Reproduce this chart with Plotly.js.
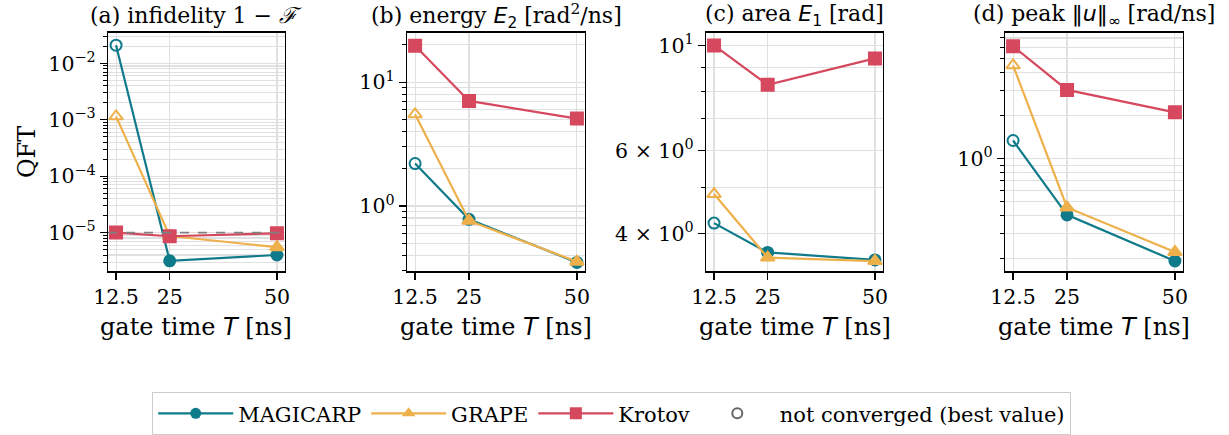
<!DOCTYPE html>
<html>
<head>
<meta charset="utf-8">
<script src="https://cdn.plot.ly/plotly-3.0.1.min.js"></script>
<style>html,body{margin:0;padding:0;background:#fff;}</style>
</head>
<body>
<div id="chart" style="width:1229px;height:435px;"></div>
<script>
// ---- data ----
const gateTimes = [12.5, 25, 50];
const gateTickText = ['12.5', '25', '50'];

const methods = ['MAGICARP', 'GRAPE', 'Krotov'];
const notConvergedLabel = 'not converged (best value)';

// converged flags per method (false -> open marker)
const convMagicarp = [false, true, true];
const convGrape = [false, true, true];
const convKrotov = [true, true, true];

// (a) infidelity
const infidMagicarp = [0.021, 3.15e-6, 4.0e-6];
const infidGrape = [1.15e-3, 8.7e-6, 5.5e-6];
const infidKrotov = [1.0e-5, 8.6e-6, 9.7e-6];
const infidThreshold = 1e-5;

// (b) energy E2
const energyMagicarp = [2.2, 0.78, 0.35];
const energyGrape = [5.5, 0.76, 0.355];
const energyKrotov = [19.7, 7.05, 5.08];

// (c) area E1
const areaMagicarp = [4.21, 3.65, 3.52];
const areaGrape = [4.85, 3.56, 3.50];
const areaKrotov = [10.0, 8.26, 9.39];

// (d) peak
const peakMagicarp = [1.34, 0.404, 0.192];
const peakGrape = [4.5, 0.455, 0.222];
const peakKrotov = [6.12, 3.03, 2.11];

const panelTitles = [
  '(a) infidelity 1 − <i>ℱ</i>',
  '(b) energy <span style="font-family:\'DejaVu Sans\'"><i>E</i><sub>2</sub></span> [rad<sup>2</sup>/ns]',
  '(c) area <span style="font-family:\'DejaVu Sans\'"><i>E</i><sub>1</sub></span> [rad]',
  '(d) peak <span style="font-family:\'DejaVu Sans\'">‖<i>u</i>‖<sub>∞</sub></span> [rad/ns]'
];
const rowLabel = 'QFT';
const xLabel = 'gate time <span style="font-family:\'DejaVu Sans\'"><i>T</i></span> [ns]';

// ---- styling ----
const colors = {MAGICARP: '#0f7a8a', GRAPE: '#eeb04a', Krotov: '#d5485e'};
const symbols = {MAGICARP: 'circle', GRAPE: 'triangle-up', Krotov: 'square'};
const sizes = {MAGICARP: 11, GRAPE: 12, Krotov: 12};

const panels = [
  {vals: [infidMagicarp, infidGrape, infidKrotov], range: [-5.69, -1.456],
   major: [1e-5, 1e-4, 1e-3, 1e-2], majorText: ['10<sup>−5</sup>', '10<sup>−4</sup>', '10<sup>−3</sup>', '10<sup>−2</sup>']},
  {vals: [energyMagicarp, energyGrape, energyKrotov], range: [-0.529, 1.399],
   major: [1, 10], majorText: ['10<sup>0</sup>', '10<sup>1</sup>']},
  {vals: [areaMagicarp, areaGrape, areaKrotov], range: [0.522, 1.027],
   major: [4, 6, 10], majorText: ['4 × 10<sup>0</sup>', '6 × 10<sup>0</sup>', '10<sup>1</sup>']},
  {vals: [peakMagicarp, peakGrape, peakKrotov], range: [-0.79, 0.882],
   major: [1], majorText: ['10<sup>0</sup>']}
];
const convFlags = [convMagicarp, convGrape, convKrotov];

const xDomains = [[108, 285], [407, 585], [706, 883], [1005, 1183]];
const W = 1229, H = 435;
const yDom = [(H - 274) / H, (H - 33) / H];

function minorTicks(range, major) {
  const out = [];
  for (let e = Math.floor(range[0]) - 1; e <= Math.ceil(range[1]); e++) {
    for (let m = 1; m <= 9; m++) {
      const v = m * Math.pow(10, e);
      const lv = Math.log10(v);
      if (lv >= range[0] && lv <= range[1] && !major.some(t => Math.abs(t - v) / v < 1e-9)) out.push(v);
    }
  }
  return out;
}

const traces = [];
const layout = {
  width: W, height: H,
  margin: {l: 0, r: 0, t: 0, b: 0},
  paper_bgcolor: '#ffffff', plot_bgcolor: '#ffffff',
  font: {family: 'DejaVu Serif', size: 20, color: '#000'},
  showlegend: true,
  legend: {
    orientation: 'h', x: 611.5 / W, xanchor: 'center', y: (H - 396) / H, yanchor: 'top',
    bordercolor: '#cccccc', borderwidth: 1.2, bgcolor: '#ffffff',
    font: {family: 'DejaVu Serif', size: 21}, itemwidth: 75, traceorder: 'normal'
  },
  annotations: [], shapes: []
};

panels.forEach((p, i) => {
  const xa = i === 0 ? 'x' : 'x' + (i + 1);
  const ya = i === 0 ? 'y' : 'y' + (i + 1);
  methods.forEach((m, k) => {
    traces.push({
      type: 'scatter', mode: 'lines+markers',
      x: gateTimes, y: p.vals[k], xaxis: xa, yaxis: ya,
      name: m, showlegend: false, cliponaxis: false,
      line: {color: colors[m], width: 2.2},
      marker: {
        color: colors[m], size: sizes[m],
        symbol: convFlags[k].map(c => c ? symbols[m] : symbols[m] + '-open'),
        line: {color: colors[m], width: 2}
      }
    });
  });
  const dom = xDomains[i];
  layout['xaxis' + (i === 0 ? '' : i + 1)] = {
    domain: [dom[0] / W, dom[1] / W], anchor: ya,
    range: [10.625, 51.875], tickmode: 'array', tickvals: gateTimes, ticktext: gateTickText,
    showline: true, mirror: true, linecolor: '#000', linewidth: 1.3,
    ticks: 'outside', ticklen: 7, tickwidth: 1.2, tickcolor: '#000',
    showgrid: true, gridcolor: '#e0e0e0', gridwidth: 1.1, zeroline: false,
    tickfont: {size: 20.5}
  };
  layout['yaxis' + (i === 0 ? '' : i + 1)] = {
    domain: yDom, anchor: xa, type: 'log', range: p.range,
    tickmode: 'array', tickvals: p.major, ticktext: p.majorText,
    showline: true, mirror: true, linecolor: '#000', linewidth: 1.3,
    ticks: 'outside', ticklen: 7, tickwidth: 1.2, tickcolor: '#000',
    showgrid: true, gridcolor: '#e0e0e0', gridwidth: 1.1, zeroline: false,
    tickfont: {size: 20.5},
    minor: {tickmode: 'array', tickvals: minorTicks(p.range, p.major), ticks: 'outside', ticklen: 4,
            tickwidth: 1, tickcolor: '#000', showgrid: true, gridcolor: '#e0e0e0', gridwidth: 1.1}
  };
  const cx = (dom[0] + dom[1]) / 2 / W;
  layout.annotations.push({
    text: panelTitles[i], xref: 'paper', yref: 'paper', x: cx, y: (H - 16) / H,
    xanchor: 'center', yanchor: 'middle', showarrow: false, font: {size: 22}
  });
  layout.annotations.push({
    text: xLabel, xref: 'paper', yref: 'paper', x: cx, y: (H - 330) / H,
    xanchor: 'center', yanchor: 'middle', showarrow: false, font: {size: 24}
  });
});

layout.annotations.push({
  text: rowLabel, xref: 'paper', yref: 'paper', x: 27 / W, y: 1 - (153.5 / H),
  xanchor: 'center', yanchor: 'middle', textangle: -90, showarrow: false, font: {size: 24}
});

layout.shapes.push({
  type: 'line', xref: 'x domain', yref: 'y', x0: 0, x1: 1, y0: infidThreshold, y1: infidThreshold,
  line: {color: '#808080', width: 1.8, dash: 'dash'}, layer: 'above'
});

// legend-only traces
methods.forEach(m => {
  traces.push({
    type: 'scatter', mode: 'lines+markers', x: [null], y: [null], name: m,
    line: {color: colors[m], width: 2.2},
    marker: {color: colors[m], size: sizes[m], symbol: symbols[m]}
  });
});
traces.push({
  type: 'scatter', mode: 'markers', x: [null], y: [null], name: notConvergedLabel,
  marker: {color: '#666666', size: 10, symbol: 'circle-open', line: {width: 2, color: '#666666'}}
});

Plotly.newPlot('chart', traces, layout, {displayModeBar: false, staticPlot: true});
</script>
</body>
</html>
